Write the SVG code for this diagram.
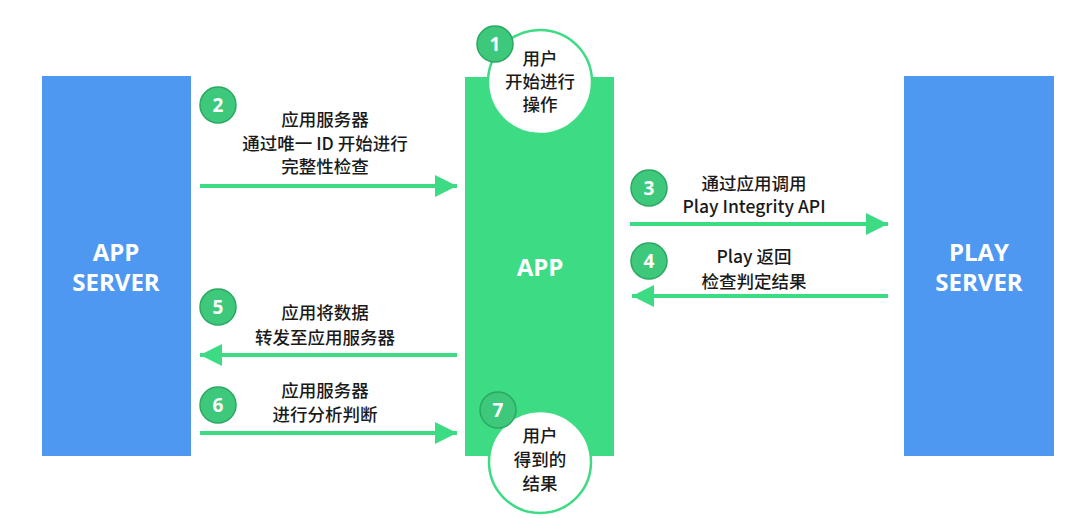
<svg xmlns="http://www.w3.org/2000/svg" width="1072" height="518" viewBox="0 0 1072 518">
<style>
.blue{fill:#4f98f1}
.green{fill:#3ddb84}
.big{font-family:"Open Sans","Noto Sans CJK SC",sans-serif;font-weight:700;font-size:24px;fill:#ffffff;text-anchor:middle}
.lbl{font-family:"Noto Sans CJK SC",sans-serif;font-weight:500;font-size:17.5px;fill:#1a1a1a;text-anchor:middle}
.badge{fill:#3ec87c;stroke:#2aa862;stroke-width:1.5}
.num{font-family:"Open Sans","Noto Sans",sans-serif;font-weight:700;font-size:19px;fill:#ffffff;text-anchor:middle}
.bubble{fill:#ffffff;stroke:#3ddb84;stroke-width:2.5}
.arrow{stroke:#3ddb84;stroke-width:4;fill:none}
</style>
<defs>
<marker id="ah" viewBox="0 0 10 10" refX="10" refY="5" markerWidth="7.5" markerHeight="5.5" markerUnits="strokeWidth" orient="auto">
<path d="M0,0 L10,5 L0,10 z" fill="#3ddb84"/>
</marker>
</defs>
<rect width="1072" height="518" fill="#ffffff"/>
<g id="app-server">
<rect class="blue" x="42" y="76" width="149" height="380"/>
<text class="big" x="116" y="261">APP</text>
<text class="big" x="116" y="291">SERVER</text>
</g>
<g id="play-server">
<rect class="blue" x="904" y="76" width="150" height="380"/>
<text class="big" x="979" y="261">PLAY</text>
<text class="big" x="979" y="291">SERVER</text>
</g>
<g id="app">
<rect class="green" x="465" y="77" width="149" height="379"/>
<text class="big" x="540" y="276">APP</text>
</g>
<g id="connectors">
<line class="arrow" x1="200" y1="186" x2="457" y2="186" marker-end="url(#ah)"/>
<line class="arrow" x1="630" y1="224" x2="888" y2="224" marker-end="url(#ah)"/>
<line class="arrow" x1="888" y1="296" x2="632" y2="296" marker-end="url(#ah)"/>
<line class="arrow" x1="457" y1="355" x2="200" y2="355" marker-end="url(#ah)"/>
<line class="arrow" x1="200" y1="433" x2="457" y2="433" marker-end="url(#ah)"/>
</g>
<g id="step1">
<circle class="bubble" cx="540" cy="82" r="52"/>
<circle class="badge" cx="495" cy="44" r="18"/>
<text class="num" x="495" y="51">1</text>
<text class="lbl" x="540" y="65">用户</text>
<text class="lbl" x="540" y="88">开始进行</text>
<text class="lbl" x="540" y="111">操作</text>
</g>
<g id="step2">
<circle class="badge" cx="218" cy="105" r="18"/>
<text class="num" x="218" y="112">2</text>
<text class="lbl" x="325" y="126">应用服务器</text>
<text class="lbl" x="325" y="150">通过唯一 ID 开始进行</text>
<text class="lbl" x="325" y="173">完整性检查</text>
</g>
<g id="step3">
<circle class="badge" cx="649" cy="188" r="18"/>
<text class="num" x="649" y="195">3</text>
<text class="lbl" x="754" y="190">通过应用调用</text>
<text class="lbl" x="754" y="213">Play Integrity API</text>
</g>
<g id="step4">
<circle class="badge" cx="649" cy="261" r="18"/>
<text class="num" x="649" y="268">4</text>
<text class="lbl" x="754" y="263">Play 返回</text>
<text class="lbl" x="754" y="288">检查判定结果</text>
</g>
<g id="step5">
<circle class="badge" cx="218" cy="307" r="18"/>
<text class="num" x="218" y="314">5</text>
<text class="lbl" x="325" y="319">应用将数据</text>
<text class="lbl" x="325" y="344">转发至应用服务器</text>
</g>
<g id="step6">
<circle class="badge" cx="218" cy="405" r="18"/>
<text class="num" x="218" y="412">6</text>
<text class="lbl" x="325" y="397">应用服务器</text>
<text class="lbl" x="325" y="421">进行分析判断</text>
</g>
<g id="step7">
<circle class="bubble" cx="540" cy="462" r="51"/>
<circle class="badge" cx="498" cy="410" r="18"/>
<text class="num" x="498" y="417">7</text>
<text class="lbl" x="540" y="442">用户</text>
<text class="lbl" x="540" y="466">得到的</text>
<text class="lbl" x="540" y="490">结果</text>
</g>
</svg>
